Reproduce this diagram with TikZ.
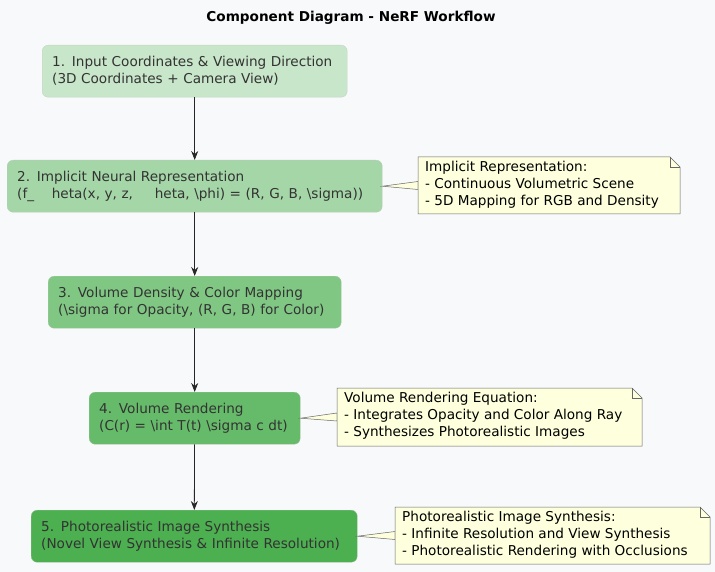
\documentclass[tikz,border=0pt]{standalone}
\usepackage{fontspec}
\setmainfont{DejaVu Sans}
\usetikzlibrary{arrows.meta}
\begin{document}
\begin{tikzpicture}[x=1pt,y=-1pt,
  box/.style={draw=#1!80!black!60, fill=#1, rounded corners=6pt, anchor=north west,
     align=left, inner xsep=10pt, inner ysep=0pt, minimum height=52pt,
     font=\fontsize{13.6}{17}\selectfont, text=black!80},
  notetxt/.style={anchor=north west, align=left, inner xsep=7pt, inner ysep=0pt,
     font=\fontsize{13.6}{17}\selectfont, text=black},
  arr/.style={-{Stealth[length=9pt,width=7pt,inset=3pt]}, draw=black!85, line width=0.8pt}]
\definecolor{c1}{HTML}{C8E6C9}\definecolor{c2}{HTML}{A5D6A7}\definecolor{c3}{HTML}{81C784}
\definecolor{c4}{HTML}{66BB6A}\definecolor{c5}{HTML}{4CAF50}\definecolor{nf}{HTML}{FEFFDD}
\definecolor{bg}{HTML}{F8F9FA}
\fill[bg] (0,0) rectangle (715,572);
\node[font=\bfseries\fontsize{13.6}{16}\selectfont] (title) at (351,18) {Component Diagram - NeRF Workflow};
\node[box=c1, text width=285pt] (n1) at (42,45) {1. Input Coordinates \& Viewing Direction\\(3D Coordinates + Camera View)};
\node[box=c2, text width=355pt] (n2) at (7,160) {2. Implicit Neural Representation\\(f\_\hspace{1.3em}heta(x, y, z,\hspace{1.6em}heta, \textbackslash phi) = (R, G, B, \textbackslash sigma))};
\node[box=c3, text width=273pt] (n3) at (48,276) {3. Volume Density \& Color Mapping\\(\textbackslash sigma for Opacity, (R, G, B) for Color)};
\node[box=c4, text width=191pt] (n4) at (89,392) {4. Volume Rendering\\(C(r) = \textbackslash int T(t) \textbackslash sigma c dt)};
\node[box=c5, text width=306pt] (n5) at (31,510) {5. Photorealistic Image Synthesis\\(Novel View Synthesis \& Infinite Resolution)};
\draw[arr] (n1) -- (n2);
\draw[arr] (n2) -- (n3);
\draw[arr] (n3) -- (n4);
\draw[arr] (n4) -- (n5);
% notes
\foreach \nm/\x/\y/\w/\h/\src/\t in {
  a/418/157/262/57/n2/{Implicit Representation:\\- Continuous Volumetric Scene\\- 5D Mapping for RGB and Density},
  b/337/388/305/58/n4/{Volume Rendering Equation:\\- Integrates Opacity and Color Along Ray\\- Synthesizes Photorealistic Images},
  c/395/507/315/57/n5/{Photorealistic Image Synthesis:\\- Infinite Resolution and View Synthesis\\- Photorealistic Rendering with Occlusions}}{
  \coordinate (\nm tl) at (\x,\y);
  \draw[fill=nf, draw=black!60, line width=0.5pt] (\src.east) -- (\x,{\y+\h/2-4}) -- (\x,{\y+\h/2+4}) -- cycle;
  \draw[fill=nf, draw=black!60, line width=0.5pt] (\x,\y) -- ({\x+\w-10},\y) -- ({\x+\w},{\y+10}) -- ({\x+\w},{\y+\h}) -- (\x,{\y+\h}) -- cycle;
  \draw[draw=black!60, line width=0.5pt] ({\x+\w-10},\y) -- ({\x+\w-10},{\y+10}) -- ({\x+\w},{\y+10});
  \node[notetxt] (\nm) at (\x,{\y+4}) {\t};
}
\end{tikzpicture}
\end{document}
